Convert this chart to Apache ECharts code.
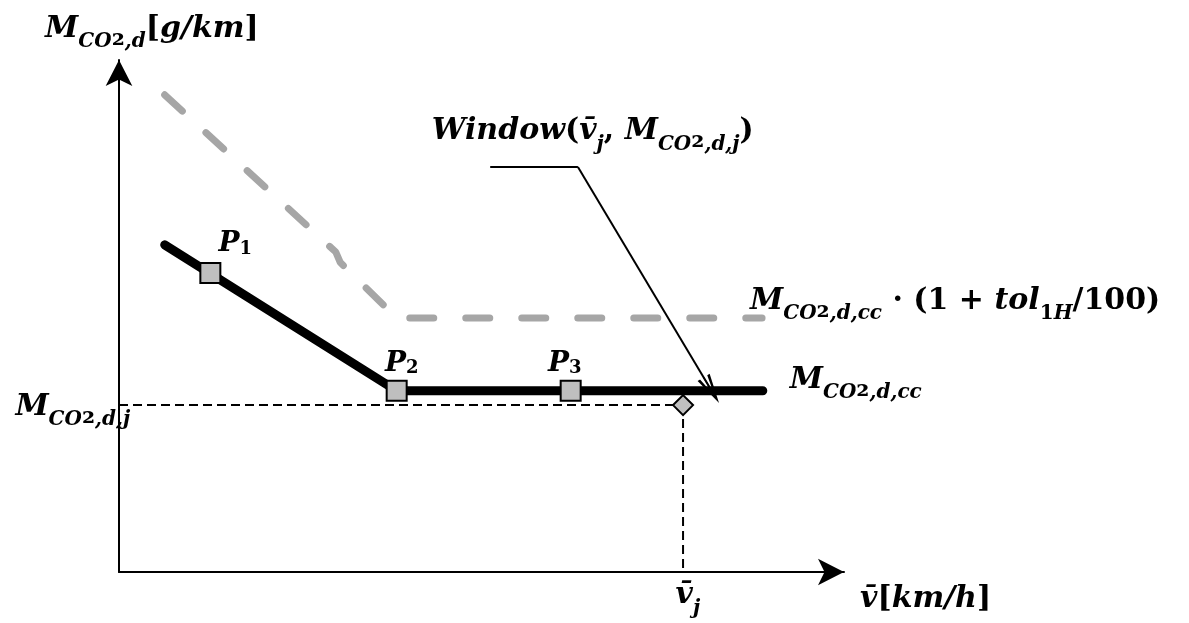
<!DOCTYPE html>
<html>
<head>
<meta charset="utf-8">
<script src="https://cdn.jsdelivr.net/npm/echarts@6/dist/echarts.min.js"></script>
<style>
  html, body { margin: 0; padding: 0; background: #fff; }
  #chart { width: 1189px; height: 623px; }
</style>
</head>
<body>
<div id="chart"></div>
<script>
// ---- DATA (schematic units, 0..100 on both axes) ----
const curveV = [6.3, 38.3, 88.8];          // measured M_CO2,d curve
const curveM = [63.9, 35.4, 35.4];
const tolV = [6.3, 29.9, 30.5, 38.3, 88.7]; // tolerance band (dashed grey)
const tolM = [93.2, 62.5, 60.5, 49.6, 49.6];
const pointNames = ['1', '2', '3'];
const pointV = [12.6, 38.3, 62.3];
const pointM = [58.4, 35.4, 35.4];
const windowV = [77.8];                     // window (v_j, M_CO2,d,j)
const windowM = [32.6];
const leaderV = [51.2, 63.3, 81.7];
const leaderM = [79.1, 79.1, 35.5];

// ---- TEXT ----
const FONT = '"DejaVu Serif", serif';
const mco2 = sub => '{b|M}{s|CO}{c|\u2082}{s|' + sub + '}';
const yName = mco2(',d') + '{r|[}{b|g/km}{r|]}{z| }';
const xName = '{b|v\u0304}{r|[}{b|km/h}{r|]}{z| }';
const ccLabel = mco2(',d,cc') + '{z| }';
const tolLabel = mco2(',d,cc') + '{r| \u00b7 (1 + }{b|tol}{q|1}{s|H}{r|/100)}{z| }';
const jLabel = mco2(',d,j') + '{z| }';
const vjLabel = '{b|v\u0304}{s|j}{z| }';
const windowLabel = '{b|Window}{r|(}{b|v\u0304}{s|j}{r|, }' + mco2(',d,j') + '{r|)}{z| }';

function rich(F) {
  const base = { fontFamily: FONT, fontWeight: 'bold', color: '#000' };
  const sub = Math.round(F * 0.66);
  return {
    b: { ...base, fontStyle: 'italic', fontSize: F, lineHeight: F, verticalAlign: 'top' },
    r: { ...base, fontSize: F, lineHeight: F, verticalAlign: 'top' },
    s: { ...base, fontStyle: 'italic', fontSize: sub, lineHeight: sub, verticalAlign: 'bottom' },
    q: { ...base, fontSize: sub, lineHeight: sub, verticalAlign: 'bottom' },
    c: { ...base, fontSize: F, lineHeight: sub, verticalAlign: 'bottom' },
    z: { fontSize: 1, lineHeight: Math.round(F * 1.25) }
  };
}
const BIG = rich(30), MID = rich(28);

const zip = (a, b) => a.map((v, i) => [v, b[i]]);

const axisCommon = {
  type: 'value', min: 0, max: 100,
  axisLine: { lineStyle: { color: '#000', width: 2 }, symbol: ['none', 'arrow'], symbolSize: [20, 26] },
  axisTick: { show: false }, axisLabel: { show: false }, splitLine: { show: false },
  nameLocation: 'end'
};
const guideStyle = { color: '#000', width: 2, type: [9, 5] };
const markerStyle = { color: '#bfbfbf', borderColor: '#000', borderWidth: 2, opacity: 1 };

const chart = echarts.init(document.getElementById('chart'));
chart.setOption({
  animation: false,
  backgroundColor: '#fff',
  grid: { left: 119, right: 345, top: 60, bottom: 51 },
  xAxis: { ...axisCommon, name: xName, nameGap: 16,
    nameTextStyle: { rich: BIG, padding: [62, 0, 0, 0] } },
  yAxis: { ...axisCommon, name: yName, nameGap: 8,
    nameTextStyle: { rich: BIG, padding: [0, 0, 0, 66] } },
  series: [
    { // guides from the window point to both axes
      type: 'line', silent: true, symbol: 'none', z: 2, lineStyle: guideStyle,
      data: [[0, windowM[0]], [windowV[0], windowM[0]]]
    },
    {
      type: 'line', silent: true, symbol: 'none', z: 2, lineStyle: guideStyle,
      data: [[windowV[0], windowM[0]], [windowV[0], 0]]
    },
    {
      type: 'line', silent: true, symbol: 'none', z: 3,
      lineStyle: { color: '#a6a6a6', width: 7, type: [24, 32], cap: 'round' },
      data: zip(tolV, tolM),
      endLabel: { show: true, distance: 0, offset: [-12, -13], formatter: tolLabel, rich: BIG }
    },
    {
      type: 'line', silent: true, symbol: 'none', z: 4,
      lineStyle: { color: '#000', width: 9, cap: 'round' },
      data: zip(curveV, curveM),
      endLabel: { show: true, distance: 27, offset: [0, -7], formatter: ccLabel, rich: BIG }
    },
    {
      type: 'scatter', silent: true, z: 6, symbol: 'rect', symbolSize: 20, itemStyle: markerStyle,
      data: pointNames.map((n, i) => ({
        value: [pointV[i], pointM[i]],
        label: { show: true, position: 'top', distance: 4, offset: [[25, 5, -6][i], [0, 2, 2][i]],
          formatter: '{b|P}{q|' + n + '}', rich: MID }
      }))
    },
    {
      type: 'scatter', silent: true, z: 6, symbol: 'diamond', symbolSize: 20, itemStyle: markerStyle,
      data: zip(windowV, windowM)
    },
    { // leader line from the "Window" annotation
      type: 'line', silent: true, symbol: 'none', z: 7,
      lineStyle: { color: '#000', width: 2 },
      data: [[leaderV[0], leaderM[0]], [leaderV[1], leaderM[1]]],
      markLine: {
        silent: true, animation: false,
        symbol: ['none', 'path://M10,0 L20,30 L16,30 L11,12 L11,30 L9,30 L9,12 L4,30 L0,30 Z'],
        symbolSize: [14, 30],
        lineStyle: { color: '#000', width: 2, type: 'solid' },
        label: { show: false },
        data: [[{ coord: [leaderV[1], leaderM[1]] }, { coord: [leaderV[2], leaderM[2]] }]]
      }
    },
    { // text annotations anchored to data positions
      type: 'scatter', silent: true, z: 8, symbolSize: 1,
      itemStyle: { color: 'transparent', opacity: 1 },
      data: [
        { value: [0, windowM[0]], label: { show: true, position: 'left', distance: -12, offset: [0, 6],
          formatter: jLabel, rich: BIG } },
        { value: [windowV[0], 0], label: { show: true, position: 'bottom', distance: 8, offset: [5, 0],
          formatter: vjLabel, rich: BIG } },
        { value: [leaderV[1], leaderM[1]], label: { show: true, position: 'top', distance: 12, offset: [15, 0],
          formatter: windowLabel, rich: BIG } }
      ]
    }
  ]
});
</script>
</body>
</html>
